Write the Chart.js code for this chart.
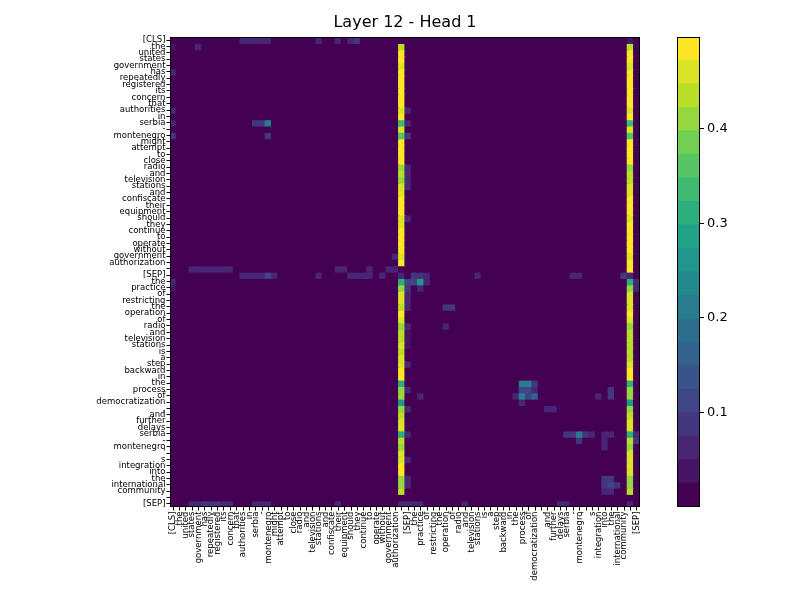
<!DOCTYPE html>
<html><head><meta charset="utf-8">
<script src="https://cdn.jsdelivr.net/npm/chart.js@4"></script>
<style>body{margin:0;background:#fff}#w{position:relative;width:800px;height:600px}canvas{position:absolute;left:0;top:0}</style>
</head><body><div id="w"><canvas id="hm" width="800" height="600"></canvas><canvas id="cb" width="800" height="600"></canvas></div>
<script>
const tokens = ["[CLS]","the","united","states","government","has","repeatedly","registered","its","concern","that","authorities","in","serbia","-","montenegro","might","attempt","to","close","radio","and","television","stations","and","confiscate","their","equipment","should","they","continue","to","operate","without","government","authorization",".","[SEP]","the","practice","of","restricting","the","operation","of","radio","and","television","stations","is","a","step","backward","in","the","process","of","democratization",",","and","further","delays","serbia","-","montenegro","'","s","integration","into","the","international","community",".","[SEP]"];
const baseValue = 0.004;
// attention received by the first "." (index 36), per row
const colPeriod1 = [0.02,0.44,0.49,0.49,0.46,0.49,0.49,0.49,0.49,0.48,0.49,0.45,0.48,0.33,0.45,0.35,0.49,0.49,0.49,0.49,0.40,0.44,0.42,0.45,0.46,0.49,0.49,0.49,0.45,0.47,0.49,0.49,0.49,0.49,0.45,0.49,0.01,0.05,
 0.30,0.40,0.45,0.45,0.44,0.49,0.45,0.41,0.44,0.44,0.46,0.44,0.45,0.47,0.49,0.49,0.30,0.40,0.42,0.27,0.40,0.43,0.47,0.47,0.30,0.44,0.40,0.45,0.47,0.48,0.48,0.42,0.40,0.44,0.01,0.05];
// attention received by the second "." (index 72), per row
const colPeriod2 = [0.03,0.44,0.49,0.49,0.47,0.49,0.49,0.49,0.49,0.48,0.49,0.46,0.49,0.33,0.45,0.35,0.49,0.49,0.49,0.49,0.41,0.44,0.43,0.45,0.47,0.49,0.49,0.49,0.46,0.48,0.49,0.49,0.49,0.49,0.47,0.49,0.49,0.07,
 0.30,0.40,0.45,0.45,0.45,0.48,0.45,0.41,0.44,0.44,0.44,0.44,0.44,0.47,0.48,0.49,0.30,0.40,0.42,0.25,0.40,0.43,0.47,0.47,0.30,0.44,0.40,0.45,0.47,0.47,0.47,0.42,0.40,0.44,0.01,0.06];
// other visible cells: [row, col, value]
const hotspots = [
 [0,11,0.06],[0,12,0.06],[0,13,0.06],[0,14,0.06],[0,15,0.06],[0,23,0.05],[0,26,0.05],[0,28,0.05],[0,29,0.08],
 [1,0,0.04],[1,4,0.06],[5,0,0.05],[11,0,0.05],[11,37,0.05],
 [13,0,0.05],[13,13,0.08],[13,14,0.08],[13,15,0.2],[13,37,0.06],
 [15,0,0.08],[15,15,0.08],[15,37,0.08],[20,37,0.05],[21,37,0.05],[22,37,0.05],[23,37,0.05],[28,37,0.05],[34,35,0.06],
 [36,3,0.05],[36,4,0.06],[36,5,0.06],[36,6,0.07],[36,7,0.07],[36,8,0.06],[36,9,0.06],[36,26,0.06],[36,27,0.05],[36,31,0.05],[36,34,0.05],[36,35,0.05],
 [37,11,0.06],[37,12,0.06],[37,13,0.06],[37,14,0.06],[37,15,0.12],[37,16,0.05],[37,23,0.05],[37,28,0.06],[37,29,0.06],[37,30,0.06],[37,31,0.06],[37,33,0.05],
 [37,38,0.08],[37,39,0.08],[37,40,0.07],[37,48,0.05],[37,63,0.07],[37,64,0.07],[37,71,0.08],
 [38,0,0.06],[38,37,0.1],[38,38,0.12],[38,39,0.25],[38,40,0.07],[38,73,0.06],[39,0,0.04],[39,37,0.08],[39,39,0.06],[39,73,0.05],
 [40,37,0.05],[41,37,0.05],[42,37,0.05],[42,43,0.08],[42,44,0.08],[45,37,0.05],[45,43,0.05],[46,37,0.04],[47,37,0.04],[48,37,0.04],[51,37,0.05],[55,37,0.05],
 [54,55,0.22],[54,56,0.22],[54,57,0.08],[55,55,0.1],[55,56,0.1],[55,57,0.07],[55,69,0.08],[56,39,0.07],[56,54,0.07],[56,55,0.2],[56,56,0.1],[56,57,0.15],[56,67,0.06],[56,69,0.08],[57,55,0.07],
 [58,37,0.06],[58,59,0.07],[58,60,0.07],
 [62,62,0.08],[62,63,0.08],[62,64,0.2],[62,65,0.08],[62,66,0.06],[62,68,0.07],[62,69,0.07],[62,37,0.06],[62,73,0.06],
 [63,64,0.08],[63,68,0.05],[63,73,0.08],[64,68,0.06],[66,37,0.05],[69,37,0.05],[70,37,0.05],
 [69,68,0.08],[69,69,0.08],[70,68,0.08],[70,69,0.1],[70,70,0.08],[71,68,0.07],[71,69,0.07],
 [73,3,0.07],[73,4,0.07],[73,5,0.08],[73,6,0.08],[73,7,0.08],[73,8,0.07],[73,9,0.06],[73,13,0.06],[73,14,0.06],[73,15,0.06],[73,26,0.06],[73,36,0.05],[73,37,0.06],[73,38,0.06],[73,39,0.06],[73,46,0.05],[73,61,0.07],[73,62,0.07],[73,72,0.06]
];
const vMin = 0, vMax = 0.497;
const cbTicks = [0.1,0.2,0.3,0.4];
const viridis = [[68,1,84],[72,35,116],[64,67,135],[52,94,141],[41,120,142],[32,144,140],[34,167,132],[68,190,112],[121,209,81],[189,223,38],[253,231,37]];
const nBands = 20;

const n = tokens.length;
const matrix = tokens.map(() => tokens.map(() => baseValue));
for (let r=0;r<n;r++){ matrix[r][36]=colPeriod1[r]; matrix[r][72]=colPeriod2[r]; }
hotspots.forEach(([r,c,v]) => { matrix[r][c]=v; });

function colorAt(t){
  t=Math.max(0,Math.min(1,t));
  const p=t*(viridis.length-1), i=Math.min(viridis.length-2,Math.floor(p)), f=p-i;
  const a=viridis[i], b=viridis[i+1];
  return `rgb(${a.map((x,k)=>Math.round(x+(b[k]-x)*f)).join(',')})`;
}
function bandColor(v){
  const t=(v-vMin)/(vMax-vMin);
  const k=Math.min(nBands-1,Math.max(0,Math.floor(t*nBands)));
  return colorAt(k/(nBands-1));
}
const font={family:'"DejaVu Sans"'};
const frame={id:'frame',afterDraw(c){const a=c.chartArea,x=c.ctx;x.save();x.strokeStyle='#000';x.lineWidth=1;x.strokeRect(Math.round(a.left)+0.5,Math.round(a.top)+0.5,Math.round(a.right-a.left)-1,Math.round(a.bottom-a.top)-1);x.restore();}};
const titlePl={id:'tt',afterDraw(c){const x=c.ctx;x.save();x.fillStyle='#000';x.font='16px "DejaVu Sans"';x.textAlign='center';x.textBaseline='middle';x.fillText('Layer 12 - Head 1',405,23);x.restore();}};

new Chart(document.getElementById('hm'),{
  type:'bar',
  data:{labels:tokens,datasets:tokens.map((_,r)=>({data:tokens.map(()=>[r-0.5,r+0.5]),backgroundColor:matrix[r].map(bandColor),borderWidth:0,inflateAmount:0.6,barPercentage:1,categoryPercentage:1}))},
  options:{responsive:false,animation:false,events:[],
    layout:{padding:{left:0,top:37,right:160,bottom:0}},
    plugins:{legend:{display:false},tooltip:{enabled:false}},
    scales:{
      x:{stacked:true,afterFit:s=>{s.height=93;},grid:{display:true,offset:false,drawOnChartArea:false,tickLength:3.5,color:'#000'},border:{display:false},
         ticks:{autoSkip:false,minRotation:90,maxRotation:90,padding:1,color:'#000',font:{...font,size:8.5}}},
      y:{min:-0.5,max:n-0.5,reverse:true,afterFit:s=>{s.width=170;},
         afterBuildTicks:s=>{s.ticks=tokens.map((_,i)=>({value:i}));},
         grid:{display:true,drawOnChartArea:false,tickLength:3.5,color:'#000'},border:{display:false},
         ticks:{autoSkip:false,padding:1,color:'#000',font:{...font,size:8.5},callback:v=>tokens[v]}}
    }},
  plugins:[frame,titlePl]
});

const bands=[...Array(nBands).keys()];
new Chart(document.getElementById('cb'),{
  type:'bar',
  data:{labels:[''],datasets:bands.map(k=>({data:[[vMin+(vMax-vMin)*k/nBands,vMin+(vMax-vMin)*(k+1)/nBands]],backgroundColor:colorAt(k/(nBands-1)),borderWidth:0,inflateAmount:0.6,barPercentage:1,categoryPercentage:1}))},
  options:{responsive:false,animation:false,events:[],
    layout:{padding:{left:677,top:37,right:0,bottom:93}},
    plugins:{legend:{display:false},tooltip:{enabled:false}},
    scales:{
      x:{stacked:true,display:false},
      y:{position:'right',min:vMin,max:vMax,afterFit:s=>{s.width=100;},
         afterBuildTicks:s=>{s.ticks=cbTicks.map(v=>({value:v}));},
         grid:{display:true,drawOnChartArea:false,tickLength:4,color:'#000'},border:{display:false},
         ticks:{padding:3,color:'#000',font:{...font,size:13},callback:v=>v.toFixed(1)}}
    }},
  plugins:[frame]
});
</script></body></html>
